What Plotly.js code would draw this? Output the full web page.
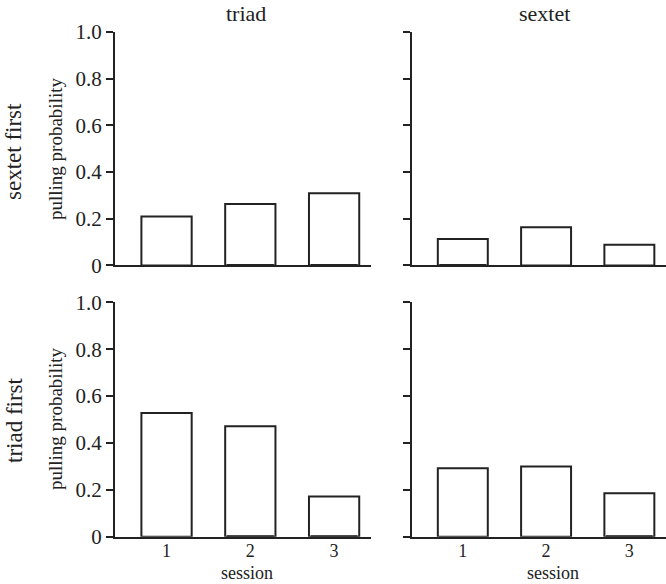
<!DOCTYPE html>
<html><head><meta charset="utf-8">
<script src="https://cdn.plot.ly/plotly-3.0.1.min.js"></script>
<style>html,body{margin:0;padding:0;background:#fff}</style>
</head><body><div id="chart" style="width:666px;height:584px"></div>
<script>
const sessions = [1, 2, 3];
const sextetFirstTriad = [0.21, 0.263, 0.31];
const sextetFirstSextet = [0.113, 0.164, 0.089];
const triadFirstTriad = [0.528, 0.471, 0.171];
const triadFirstSextet = [0.292, 0.299, 0.185];
// small near-zero component visible at the base of some bars
const sextetFirstTriadLow = [0, 0.006, 0.006];
const sextetFirstSextetLow = [0.006, 0, 0];
const triadFirstTriadLow = [0, 0.006, 0.006];
const triadFirstSextetLow = [0, 0, 0.006];
const yTickVals = [0, 0.2, 0.4, 0.6, 0.8, 1.0];
const yTickText = ['0', '0.2', '0.4', '0.6', '0.8', '1.0'];
const colTitles = ['triad', 'sextet'];
const rowTitles = ['sextet first', 'triad first'];

const ink = '#222';
const serif = '"Liberation Serif", "Times New Roman", serif';

function barTrace(y, xa, ya) {
  return {type: 'bar', x: sessions, y: y, xaxis: xa, yaxis: ya, width: 0.6,
    marker: {color: '#fff', line: {color: ink, width: 2}}, hoverinfo: 'skip', showlegend: false};
}
function lowTrace(y, xa, ya) {
  return {type: 'bar', x: sessions, y: y, xaxis: xa, yaxis: ya, width: 0.56,
    marker: {color: ink, line: {width: 0}}, hoverinfo: 'skip', showlegend: false};
}

const data = [
  barTrace(sextetFirstTriad, 'x', 'y'), lowTrace(sextetFirstTriadLow, 'x', 'y'),
  barTrace(sextetFirstSextet, 'x2', 'y2'), lowTrace(sextetFirstSextetLow, 'x2', 'y2'),
  barTrace(triadFirstTriad, 'x3', 'y3'), lowTrace(triadFirstTriadLow, 'x3', 'y3'),
  barTrace(triadFirstSextet, 'x4', 'y4'), lowTrace(triadFirstSextetLow, 'x4', 'y4')
];

const colDom = [[0.1727, 0.557], [0.618, 1.0]];
const rowDom = [[0.5454, 0.945], [0.081, 0.4824]];

function xax(col, row, anchor) {
  return {domain: colDom[col], anchor: anchor, range: [0.385, 3.44], showline: true, linecolor: ink, linewidth: 2,
    showgrid: false, zeroline: false, ticks: '', tickvals: sessions, ticklabelstandoff: -3,
    showticklabels: row === 1, tickfont: {family: serif, size: 18, color: ink}, fixedrange: true};
}
function yax(col, row, anchor) {
  return {domain: rowDom[row], anchor: anchor, range: [0, 1], showline: true, linecolor: ink, linewidth: 2,
    showgrid: false, zeroline: false, ticks: 'outside', ticklen: 7, tickwidth: 2, tickcolor: ink,
    tickvals: yTickVals, ticktext: yTickText, showticklabels: col === 0,
    tickfont: {family: serif, size: 21, color: ink}, fixedrange: true};
}

const ann = [];
const tf = (s) => ({family: serif, size: s, color: ink});
ann.push({text: colTitles[0], x: 245.5/666, y: 1 - 13/584, xref: 'paper', yref: 'paper', showarrow: false, font: tf(22), xanchor: 'center', yanchor: 'middle'});
ann.push({text: colTitles[1], x: 544/666, y: 1 - 13/584, xref: 'paper', yref: 'paper', showarrow: false, font: tf(22), xanchor: 'center', yanchor: 'middle'});
ann.push({text: rowTitles[0], x: 14/666, y: 1 - 152/584, xref: 'paper', yref: 'paper', showarrow: false, font: tf(23), textangle: -90, xanchor: 'center', yanchor: 'middle'});
ann.push({text: rowTitles[1], x: 14/666, y: 1 - 420/584, xref: 'paper', yref: 'paper', showarrow: false, font: tf(23), textangle: -90, xanchor: 'center', yanchor: 'middle'});
ann.push({text: 'pulling probability', x: 55/666, y: 1 - 149/584, xref: 'paper', yref: 'paper', showarrow: false, font: tf(19), textangle: -90, xanchor: 'center', yanchor: 'middle'});
ann.push({text: 'pulling probability', x: 55/666, y: 1 - 419/584, xref: 'paper', yref: 'paper', showarrow: false, font: tf(19), textangle: -90, xanchor: 'center', yanchor: 'middle'});
ann.push({text: 'session', x: 247/666, y: 1 - 572.5/584, xref: 'paper', yref: 'paper', showarrow: false, font: tf(18), xanchor: 'center', yanchor: 'middle', borderpad: 0});
ann.push({text: 'session', x: 553/666, y: 1 - 572.5/584, xref: 'paper', yref: 'paper', showarrow: false, font: tf(18), xanchor: 'center', yanchor: 'middle', borderpad: 0});

const layout = {
  width: 666, height: 584, margin: {l: 0, r: 0, t: 0, b: 0},
  paper_bgcolor: '#fff', plot_bgcolor: 'rgba(0,0,0,0)',
  barmode: 'overlay', showlegend: false,
  xaxis: xax(0, 0, 'y'), yaxis: yax(0, 0, 'x'),
  xaxis2: xax(1, 0, 'y2'), yaxis2: yax(1, 0, 'x2'),
  xaxis3: xax(0, 1, 'y3'), yaxis3: yax(0, 1, 'x3'),
  xaxis4: xax(1, 1, 'y4'), yaxis4: yax(1, 1, 'x4'),
  annotations: ann
};
Plotly.newPlot('chart', data, layout, {staticPlot: true, displayModeBar: false});
</script></body></html>
